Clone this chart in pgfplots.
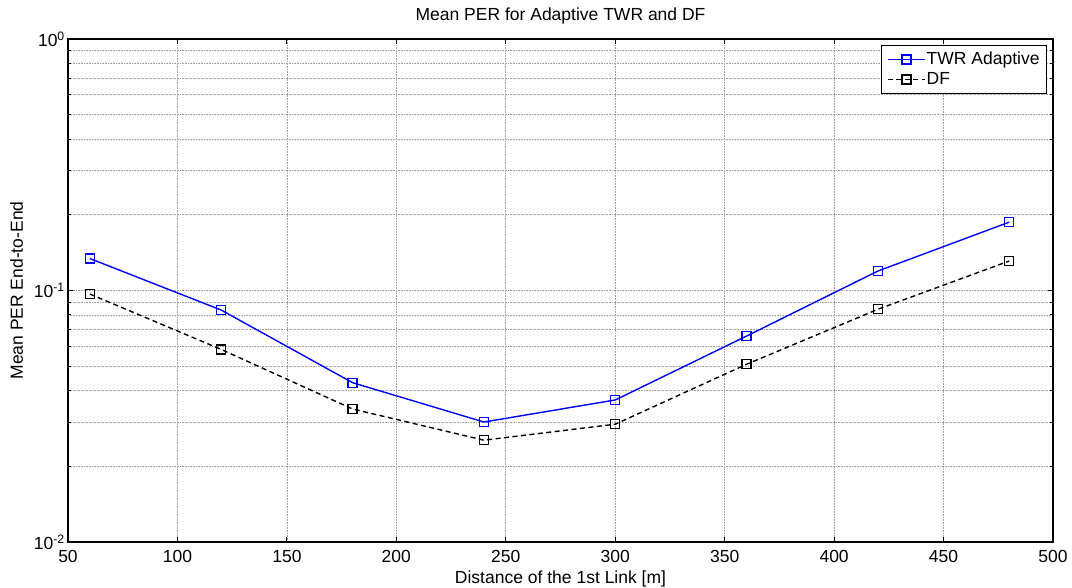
\documentclass[border=0pt]{standalone}
\usepackage{fontspec}
\setmainfont{Liberation Sans}
\usepackage{pgfplots}
\pgfplotsset{compat=1.18}
\begin{document}
\begin{tikzpicture}[font=\fontsize{17.5}{21}\selectfont]
\begin{semilogyaxis}[
  scale only axis, width=985pt, height=503pt,
  xmin=50, xmax=500, ymin=0.01, ymax=1,
  xtick={50,100,...,500},
  ytick={0.01,0.1,1},
  yticklabels={{10\textsuperscript{-2}},{10\textsuperscript{-1}},{10\textsuperscript{0}}},
  minor ytick={0.02,0.03,0.04,0.05,0.06,0.07,0.08,0.09,0.2,0.3,0.4,0.5,0.6,0.7,0.8,0.9},
  /pgf/number format/assume math mode=true,
  grid=both,
  major grid style={gray!75, line width=0.7pt, dash pattern=on 1pt off 0.6pt},
  minor grid style={gray!75, line width=0.7pt, dash pattern=on 1pt off 0.6pt},
  tick align=inside,
  major tick length=5pt, minor tick length=3pt,
  tick style={black, line width=0.8pt},
  axis line style={black, line width=1.3pt},
  xticklabel style={inner sep=0pt, anchor=north, yshift=-8pt},
  yticklabel style={inner sep=0pt, anchor=east, xshift=-3pt},
  title={Mean PER for Adaptive TWR and DF},
  title style={anchor=base, at={(0.5,1)}, yshift=12pt},
  xlabel={Distance of the 1st Link [m]},
  ylabel={Mean PER End-to-End},
  xlabel style={at={([yshift=-41pt]axis description cs:0.5,0)}, anchor=base, inner sep=0pt},
  ylabel style={at={([xshift=-45pt]axis description cs:0,0.5)}, anchor=base, inner sep=0pt},
  legend cell align=left,
  legend style={at={(0.9939,0.988)}, anchor=north east, draw=black, line width=1pt,
    fill=white, inner xsep=6pt, inner ysep=5pt, row sep=2pt,
    nodes={inner sep=1pt, text height=12.5pt, text depth=3.5pt}},
  legend image code/.code={\draw[mark repeat=2,mark phase=2,#1] plot coordinates {(0pt,0pt) (18.5pt,0pt) (37pt,0pt)};},
]
\addplot[color=blue, line width=1.4pt, mark=square, mark size=4.5pt, mark options={solid, line width=1.3pt}]
coordinates {(60,0.134) (120,0.0836) (180,0.043) (240,0.030) (300,0.0367) (360,0.0659) (420,0.1195) (480,0.187)};
\addlegendentry{TWR Adaptive}
\addplot[color=black, line width=1.4pt, dash pattern=on 5pt off 3.5pt, mark=square, mark size=4.5pt, mark options={solid, line width=1.3pt}]
coordinates {(60,0.0968) (120,0.0583) (180,0.0338) (240,0.0254) (300,0.0294) (360,0.0509) (420,0.0842) (480,0.131)};
\addlegendentry{DF}
\end{semilogyaxis}
\path ([xshift=-68pt,yshift=-46pt]current axis.south west) rectangle ([xshift=19pt,yshift=39pt]current axis.north east);
\end{tikzpicture}
\end{document}
